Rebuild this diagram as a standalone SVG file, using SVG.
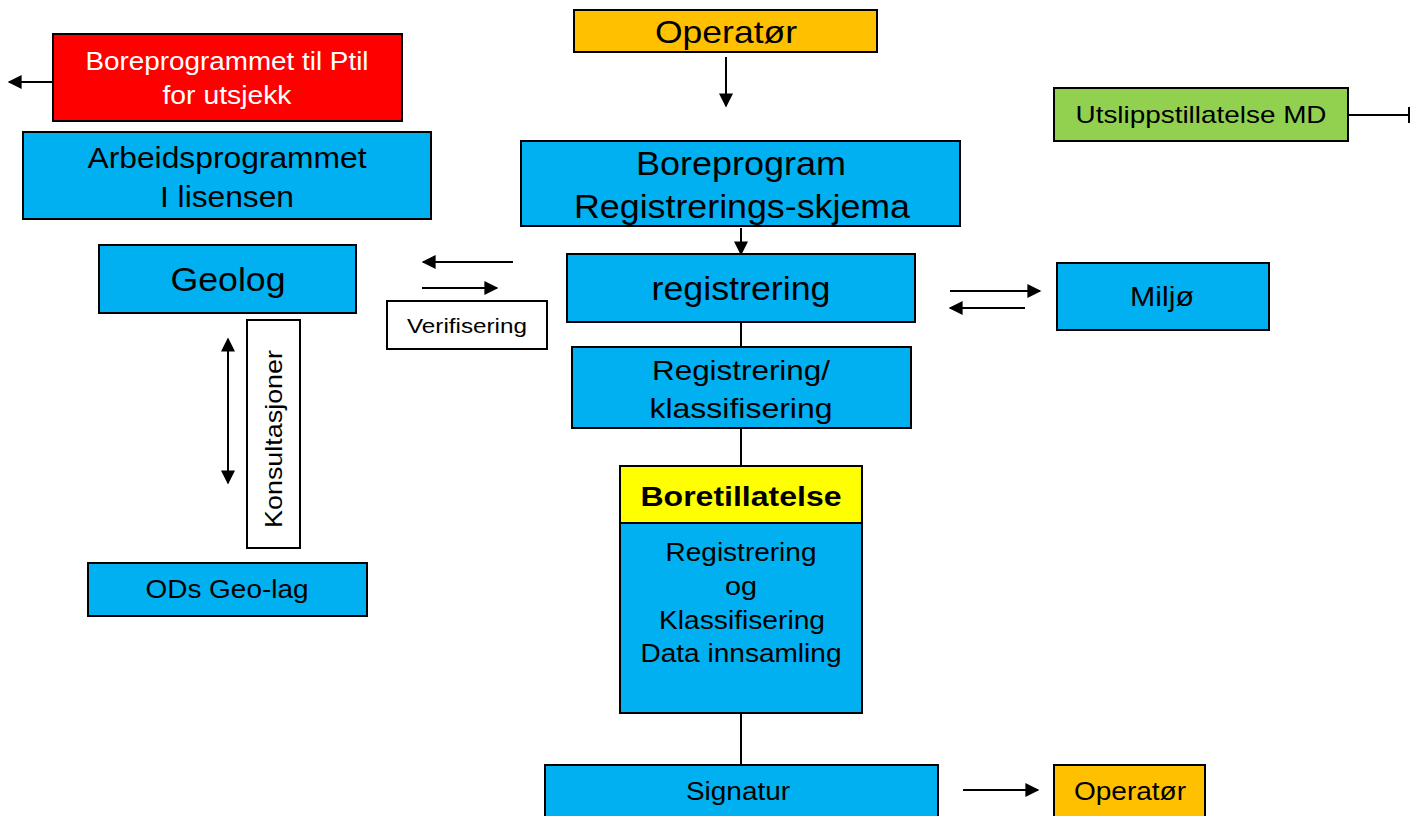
<svg xmlns="http://www.w3.org/2000/svg" width="1410" height="816" viewBox="0 0 1410 816">
<defs>
<style>
.b{stroke:#000;stroke-width:2}
.blue{fill:#00b0f0}
.t{font-family:"Liberation Sans",Arial,sans-serif;fill:#000;text-anchor:middle}
.w{fill:#fff}
.c{stroke:#000;stroke-width:2;fill:none}
</style>
<marker id="ah" viewBox="0 0 10 10" refX="9" refY="5" markerWidth="16" markerHeight="14" markerUnits="userSpaceOnUse" orient="auto-start-reverse">
<path d="M0,0 L10,5 L0,10 z" fill="#000"/>
</marker>
</defs>
<rect width="1410" height="816" fill="#fff"/>
<g id="connectors">
<line class="c" x1="726" y1="57" x2="726" y2="106" marker-end="url(#ah)"/>
<line class="c" x1="53" y1="82" x2="9" y2="82" marker-end="url(#ah)"/>
<line class="c" x1="741" y1="228" x2="741" y2="254" marker-end="url(#ah)"/>
<line class="c" x1="513" y1="262" x2="423" y2="262" marker-end="url(#ah)"/>
<line class="c" x1="422" y1="288" x2="497" y2="288" marker-end="url(#ah)"/>
<line class="c" x1="950" y1="291" x2="1040" y2="291" marker-end="url(#ah)"/>
<line class="c" x1="1025" y1="308" x2="950" y2="308" marker-end="url(#ah)"/>
<line class="c" x1="1348" y1="115" x2="1409" y2="115"/>
<line class="c" x1="1409" y1="107" x2="1409" y2="123"/>
<line class="c" x1="741" y1="322" x2="741" y2="347"/>
<line class="c" x1="741" y1="428" x2="741" y2="466"/>
<line class="c" x1="741" y1="713" x2="741" y2="765"/>
<line class="c" x1="963" y1="790" x2="1038" y2="790" marker-end="url(#ah)"/>
<line class="c" x1="228" y1="339" x2="228" y2="483" marker-start="url(#ah)" marker-end="url(#ah)"/>
</g>
<g id="operator-top">
<rect class="b" x="574" y="10" width="303" height="42" fill="#ffc000"/>
<text class="t" x="726" y="43" font-size="32" textLength="142" lengthAdjust="spacingAndGlyphs">Operatør</text>
</g>
<g id="boreprogrammet-ptil">
<rect class="b" x="53" y="34" width="349" height="87" fill="#ff0000"/>
<text class="t w" x="227" y="70" font-size="25" textLength="283" lengthAdjust="spacingAndGlyphs">Boreprogrammet til Ptil</text>
<text class="t w" x="227" y="104" font-size="25" textLength="129" lengthAdjust="spacingAndGlyphs">for utsjekk</text>
</g>
<g id="arbeidsprogrammet">
<rect class="b blue" x="23" y="132" width="408" height="87"/>
<text class="t" x="227" y="168" font-size="29" textLength="279" lengthAdjust="spacingAndGlyphs">Arbeidsprogrammet</text>
<text class="t" x="227" y="207" font-size="29" textLength="134" lengthAdjust="spacingAndGlyphs">I lisensen</text>
</g>
<g id="boreprogram">
<rect class="b blue" x="521" y="141" width="439" height="85"/>
<text class="t" x="741" y="175" font-size="33" textLength="210" lengthAdjust="spacingAndGlyphs">Boreprogram</text>
<text class="t" x="742" y="218" font-size="33" textLength="336" lengthAdjust="spacingAndGlyphs">Registrerings-skjema</text>
</g>
<g id="geolog">
<rect class="b blue" x="99" y="245" width="257" height="68"/>
<text class="t" x="228" y="291" font-size="33" textLength="115" lengthAdjust="spacingAndGlyphs">Geolog</text>
</g>
<g id="registrering">
<rect class="b blue" x="567" y="254" width="348" height="68"/>
<text class="t" x="741" y="300" font-size="33" textLength="179" lengthAdjust="spacingAndGlyphs">registrering</text>
</g>
<g id="verifisering">
<rect class="b" x="387" y="301" width="160" height="48" fill="#fff"/>
<text class="t" x="467" y="333" font-size="21" textLength="120" lengthAdjust="spacingAndGlyphs">Verifisering</text>
</g>
<g id="miljo">
<rect class="b blue" x="1057" y="263" width="212" height="67"/>
<text class="t" x="1162" y="306" font-size="27" textLength="64" lengthAdjust="spacingAndGlyphs">Miljø</text>
</g>
<g id="utslipp">
<rect class="b" x="1054" y="88" width="294" height="53" fill="#92d050"/>
<text class="t" x="1201" y="123" font-size="24" textLength="251" lengthAdjust="spacingAndGlyphs">Utslippstillatelse MD</text>
</g>
<g id="registrering-klassifisering">
<rect class="b blue" x="572" y="347" width="339" height="81"/>
<text class="t" x="741" y="380" font-size="28" textLength="178" lengthAdjust="spacingAndGlyphs">Registrering/</text>
<text class="t" x="741" y="418" font-size="28" textLength="183" lengthAdjust="spacingAndGlyphs">klassifisering</text>
</g>
<g id="boretillatelse">
<rect class="b" x="620" y="466" width="242" height="57" fill="#ffff00"/>
<text class="t" x="741" y="506" font-size="27" font-weight="bold" textLength="201" lengthAdjust="spacingAndGlyphs">Boretillatelse</text>
<rect class="b blue" x="620" y="523" width="242" height="190"/>
<text class="t" x="741" y="561" font-size="25" textLength="151" lengthAdjust="spacingAndGlyphs">Registrering</text>
<text class="t" x="741" y="595" font-size="25" textLength="32" lengthAdjust="spacingAndGlyphs">og</text>
<text class="t" x="742" y="629" font-size="25" textLength="166" lengthAdjust="spacingAndGlyphs">Klassifisering</text>
<text class="t" x="741" y="662" font-size="25" textLength="201" lengthAdjust="spacingAndGlyphs">Data innsamling</text>
</g>
<g id="konsultasjoner">
<rect class="b" x="247" y="320" width="53" height="228" fill="#fff"/>
<text class="t" x="0" y="0" font-size="24" textLength="178" lengthAdjust="spacingAndGlyphs" transform="translate(282,439) rotate(-90)">Konsultasjoner</text>
</g>
<g id="ods-geo-lag">
<rect class="b blue" x="88" y="563" width="279" height="53"/>
<text class="t" x="227" y="598" font-size="25" textLength="163" lengthAdjust="spacingAndGlyphs">ODs Geo-lag</text>
</g>
<g id="signatur">
<rect class="b blue" x="545" y="765" width="393" height="54"/>
<text class="t" x="738" y="800" font-size="25" textLength="104" lengthAdjust="spacingAndGlyphs">Signatur</text>
</g>
<g id="operator-bottom">
<rect class="b" x="1054" y="765" width="151" height="54" fill="#ffc000"/>
<text class="t" x="1130" y="800" font-size="25" textLength="112" lengthAdjust="spacingAndGlyphs">Operatør</text>
</g>
</svg>
